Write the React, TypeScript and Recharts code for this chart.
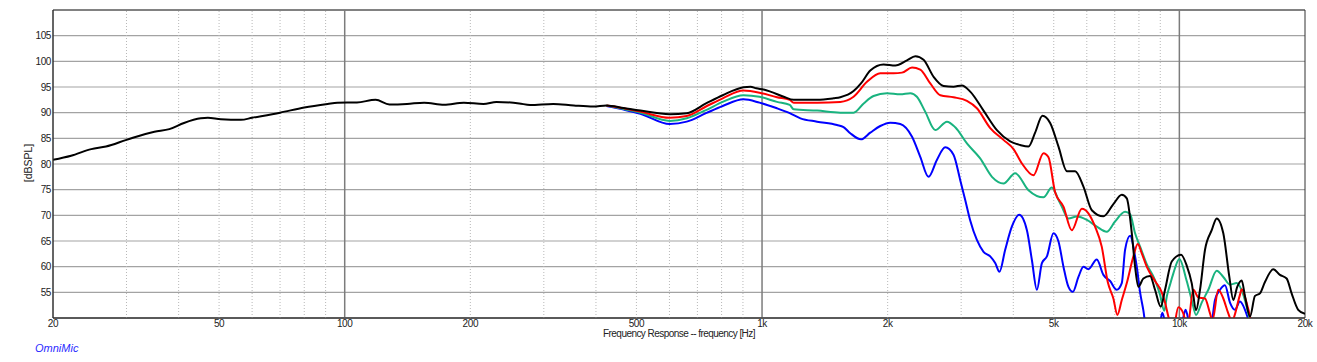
import {
  CartesianGrid,
  Line,
  LineChart,
  ReferenceArea,
  ReferenceLine,
  XAxis,
  YAxis,
} from "recharts";

// values, frequency in Hz and level in dB SPL
const blackHz = [
  20, 22.1, 24.7, 26.8, 30, 35, 38, 41.2, 45.2, 47, 50.5, 56.4, 60, 70, 80, 91, 96, 107,
  118.6, 128, 141, 155, 173, 193, 215, 231, 262, 278, 316, 354, 394, 424, 466, 511,
  601, 660, 734, 805, 903, 938, 969, 1009, 1047, 1127, 1191, 1355, 1484, 1540, 1657,
  1726, 1817, 1955, 2086, 2225, 2330, 2438, 2576, 2722, 2876, 3012, 3154, 3394, 3654,
  3932, 4154, 4349, 4512, 4698, 4902, 5133, 5377, 5627, 5890, 6169, 6576, 6948, 7278,
  7482, 7692, 7832, 7976, 8198, 8507, 8743, 9024, 9240, 9588, 10092, 10414, 10705,
  10962, 11207, 11520, 11954, 12288, 12743, 13172, 13466, 13767, 14104, 14364, 14766,
  15178, 15598, 16035, 16787, 17417, 18072, 18578, 19264, 20000,
];
const blackDb = [
  80.8, 81.6, 82.9, 83.4, 84.7, 86.3, 86.8, 88.0, 88.9, 89.0, 88.7, 88.6, 89.0, 90.0, 91.0, 91.7, 91.95, 92.0,
  92.5, 91.6, 91.7, 91.95, 91.56, 91.95, 91.7, 92.1, 91.8, 91.5, 91.7, 91.4, 91.2, 91.4, 90.9, 90.4,
  89.7, 89.9, 91.8, 93.4, 94.95, 95.06, 94.75, 94.5, 94.1, 93.1, 92.5, 92.5, 92.8, 93.0, 94.2,
  95.7, 98.2, 99.4, 99.2, 100.2, 101.0, 100.3, 97.0, 95.2, 95.06, 95.3, 94.1, 90.4, 86.6,
  84.4, 83.7, 83.4, 86.1, 89.4, 88.0, 83.4, 78.6, 78.6, 75.6, 71.0, 69.8, 72.2, 74.0,
  73.3, 66.5, 60.0, 56.1, 57.7, 58.2, 55.5, 52.2, 55.5, 61.0, 62.3, 60.2, 56.8,
  51.5, 55.5, 63.3, 67.1, 69.4, 66.5, 58.05, 53.5, 56.1, 57.3, 54.2, 50.3,
  54.3, 54.8, 57.0, 59.5, 58.4, 57.7, 54.8, 51.6, 50.8,
];

const redHz = [
  424, 466, 511, 601, 660, 734, 805, 903, 986, 1086, 1165, 1191, 1355, 1540, 1657,
  1784, 1920, 2066, 2164, 2288, 2394, 2530, 2674, 2876, 3097, 3272, 3522, 3789, 4005,
  4195, 4470, 4725, 4857, 5038, 5275, 5523, 5838, 6054, 6281, 6516, 6736, 6948, 7103,
  7278, 7482, 7760, 7948, 8126, 8352, 8743, 9074, 9240, 9410, 9650, 9942, 10218, 10450,
  10800, 11102, 11520, 11842, 12000, 12398, 12743, 13098, 13350, 13968, 14104, 14498,
  14766, 15000,
];
const redDb = [
  91.4, 90.85, 90.2, 89.0, 89.35, 91.2, 92.8, 94.3, 93.9, 93.0, 92.5, 91.95, 91.95, 92.1, 93.1,
  96.0, 97.7, 97.7, 97.8, 98.8, 98.4, 95.7, 93.4, 93.0, 92.3, 90.85, 87.0, 84.7, 82.9,
  80.1, 77.8, 82.1, 81.3, 74.5, 71.7, 67.1, 71.3, 70.4, 67.8, 63.9, 57.0, 53.8, 50.6,
  53.5, 56.8, 62.0, 64.4, 62.6, 60.0, 57.2, 55.0, 53.0, 50.3, 47.5, 52.1, 50.9, 48,
  55.5, 54.0, 53.8, 50.9, 49.5, 55.5, 53.8, 50.9, 49.5, 54.5, 55.6, 52.9,
  50.3, 47,
];

const greenHz = [
  424, 466, 511, 601, 660, 734, 805, 903, 986, 1086, 1165, 1191, 1355, 1540, 1657,
  1752, 1850, 1992, 2144, 2266, 2350, 2460, 2600, 2774, 2904, 3097, 3332, 3556, 3789,
  4042, 4349, 4725, 4948, 5133, 5227, 5420, 5678, 6002, 6341, 6698, 7012, 7412, 7620,
  7832, 8052, 8352, 8743, 8990, 9200, 9330, 9498, 9674, 10000, 10414, 10705, 10962,
  11312, 11732, 12288, 12743, 13222, 13716, 14232, 14628, 15000,
];
const greenDb = [
  91.4, 90.7, 90.0, 88.4, 88.9, 90.5, 92.1, 93.4, 93.1, 92.1, 91.5, 90.65, 90.4, 90.0, 90.0,
  91.8, 93.25, 93.8, 93.6, 93.8, 93.1, 90.2, 86.6, 88.25, 87.15, 84.0, 81.1, 77.5, 76.2,
  78.2, 74.9, 73.5, 75.4, 73.0, 71.7, 69.4, 69.75, 69.1, 67.8, 66.8, 68.8, 70.7, 70.2,
  66.5, 63.9, 60.5, 57.4, 54.5, 51.4, 54.2, 56.5, 58.7, 61.5, 57.2, 53.5, 50.6,
  53.0, 55.5, 59.2, 58.0, 56.5, 56.8, 54.5, 50.9, 47,
];

const blueHz = [
  424, 466, 511, 601, 660, 734, 805, 903, 986, 1086, 1165, 1236, 1355, 1512, 1568,
  1627, 1726, 1817, 1920, 2029, 2144, 2288, 2394, 2506, 2624, 2748, 2876, 2984, 3068,
  3154, 3272, 3394, 3522, 3620, 3706, 3825, 3968, 4133, 4312, 4432, 4556, 4684, 4815,
  4992, 5133, 5275, 5420, 5555, 5730, 5890, 6054, 6341, 6576, 6824, 7078, 7278, 7412,
  7620, 7832, 7906, 8052, 8198, 8400, 8900, 9100, 9250, 9600, 10150, 10350, 10550,
  11000, 11900, 12172, 12514, 12862, 13222, 13590, 13968, 14364, 14550, 15000,
];
const blueDb = [
  91.3, 90.6, 89.8, 87.8, 88.25, 89.9, 91.3, 92.6, 91.95, 90.85, 89.9, 88.9, 88.25, 87.6, 87.2,
  86.0, 84.8, 86.1, 87.4, 88.05, 87.8, 85.3, 81.4, 77.5, 80.8, 83.25, 81.8, 76.9, 73.0,
  69.0, 65.2, 62.9, 62.0, 60.7, 59.0, 63.3, 67.8, 70.1, 67.1, 61.3, 55.5, 60.7, 62.0,
  66.5, 64.9, 60.0, 56.1, 55.1, 58.0, 60.0, 59.5, 61.4, 58.4, 57.2, 55.5, 56.8, 63.3,
  66.0, 62.0, 60.0, 55.0, 51.5, 46, 47, 51, 49, 45, 49, 51.6, 49,
  44, 48, 53.5, 55.5, 56.4, 53.0, 51.6, 53.2, 51.6, 50.3, 46,
];

const xTicks = [20, 50, 100, 200, 500, 1000, 2000, 5000, 10000, 20000];
const yTicks = [55, 60, 65, 70, 75, 80, 85, 90, 95, 100, 105];
const majorGridHz = [100, 1000, 10000];
const minorGridHz = [
  30, 40, 50, 60, 70, 80, 90, 200, 300, 400, 500, 600, 700, 800, 900,
  2000, 3000, 4000, 5000, 6000, 7000, 8000, 9000,
];

const toPoints = (hz: number[], db: number[]) => hz.map((f, i) => ({ hz: f, db: db[i] }));

const series = [
  { key: "blue", color: "#0000ff", data: toPoints(blueHz, blueDb) },
  { key: "green", color: "#19b37f", data: toPoints(greenHz, greenDb) },
  { key: "red", color: "#ff0000", data: toPoints(redHz, redDb) },
  { key: "black", color: "#000000", data: toPoints(blackHz, blackDb) },
];

const FONT = "'Liberation Sans', Arial, sans-serif";
const tickStyle = { fontSize: 10, fill: "#222", fontFamily: FONT, letterSpacing: -0.4 };

const fmtHz = (v: number) => (v >= 1000 ? `${v / 1000}k` : `${v}`);

export default function App() {
  return (
    <div
      style={{
        position: "absolute",
        left: 0,
        top: 0,
        width: 1317,
        height: 362,
        background: "#fff",
        fontFamily: FONT,
      }}
    >
      <LineChart width={1317} height={362} margin={{ top: 10, right: 12, left: 0, bottom: 0 }}>
        <CartesianGrid vertical={false} stroke="#a3a3a3" strokeWidth={1.2} />
        <XAxis
          type="number"
          dataKey="hz"
          scale="log"
          domain={[20, 20000]}
          allowDataOverflow
          ticks={xTicks}
          tickFormatter={fmtHz}
          height={44}
          tickLine={false}
          tickSize={0}
          tickMargin={2}
          axisLine={{ stroke: "#333" }}
          tick={tickStyle}
          interval={0}
        />
        <YAxis
          type="number"
          domain={[50, 110]}
          allowDataOverflow
          ticks={yTicks}
          width={53}
          tickLine={false}
          tickSize={0}
          tickMargin={2}
          axisLine={{ stroke: "#333" }}
          tick={tickStyle}
          interval={0}
        />
        {minorGridHz.map((f) => (
          <ReferenceLine key={`m${f}`} x={f} stroke="#b8b8b8" strokeDasharray="1 2" />
        ))}
        {majorGridHz.map((f) => (
          <ReferenceLine key={`M${f}`} x={f} stroke="#7c7c7c" strokeWidth={1.5} />
        ))}
        <ReferenceArea x1={20} x2={20000} y1={50} y2={110} fill="none" stroke="#333" />
        {series.map((s) => (
          <Line
            key={s.key}
            data={s.data}
            dataKey="db"
            type="monotone"
            stroke={s.color}
            strokeWidth={2}
            dot={false}
            activeDot={false}
            isAnimationActive={false}
          />
        ))}
      </LineChart>
      <div
        style={{
          position: "absolute",
          left: 28,
          top: 163,
          transform: "translate(-50%, -50%) rotate(-90deg)",
          fontSize: 10.5,
          color: "#222",
          whiteSpace: "nowrap",
        }}
      >
        [dBSPL]
      </div>
      <div
        style={{
          position: "absolute",
          left: 679,
          top: 333,
          transform: "translate(-50%, -50%)",
          fontSize: 10,
          letterSpacing: -0.55,
          color: "#222",
          whiteSpace: "nowrap",
        }}
      >
        Frequency Response -- frequency [Hz]
      </div>
      <div
        style={{
          position: "absolute",
          left: 35,
          top: 348,
          transform: "translateY(-50%)",
          fontSize: 11,
          fontStyle: "italic",
          color: "#2b2bff",
          whiteSpace: "nowrap",
        }}
      >
        OmniMic
      </div>
    </div>
  );
}
